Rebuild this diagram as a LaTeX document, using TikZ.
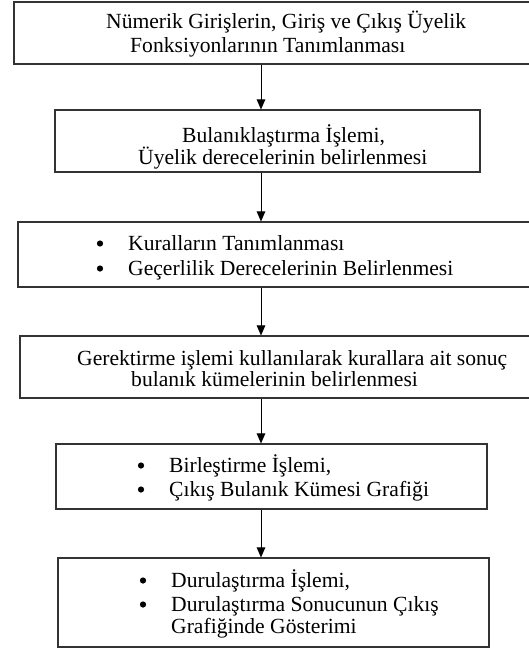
\documentclass[tikz,border=0pt]{standalone}
\usepackage{fontspec}
\setmainfont{Liberation Serif}
\usetikzlibrary{arrows.meta}
\begin{document}
\begin{tikzpicture}[x=1pt,y=-1pt,
  box/.style={draw=black!80, line width=1.1pt, inner sep=0pt, fill=white},
  txt/.style={anchor=base west, inner sep=0pt, font=\fontsize{21.6}{24}\selectfont},
  flow/.style={-{Triangle[length=10pt,width=8.5pt]}, line width=1pt},
  bul/.style={fill=black}]
\clip (0,0) rectangle (529,648);
\fill[white] (0,0) rectangle (529,648);

% process boxes
\node[box, minimum width=518pt, minimum height=62pt] (b1) at (273,33) {};
\node[box, minimum width=425pt, minimum height=62pt] (b2) at (267.5,141) {};
\node[box, minimum width=514pt, minimum height=65pt] (b3) at (275,254.5) {};
\node[box, minimum width=512pt, minimum height=62pt] (b4) at (276,367) {};
\node[box, minimum width=431pt, minimum height=65pt] (b5) at (271.5,476.5) {};
\node[box, minimum width=431pt, minimum height=89pt] (b6) at (273.5,602.5) {};

% box texts
\node[txt] (t1a) at (106,28) {Nümerik Girişlerin, Giriş ve Çıkış Üyelik};
\node[txt] (t1b) at (130,52) {Fonksiyonlarının Tanımlanması};
\node[txt] (t2a) at (182,142) {Bulanıklaştırma İşlemi,};
\node[txt] (t2b) at (138,164) {Üyelik derecelerinin belirlenmesi};
\node[txt] (t3a) at (128,250) {Kuralların Tanımlanması};
\node[txt] (t3b) at (128,275) {Geçerlilik Derecelerinin Belirlenmesi};
\node[txt] (t4a) at (77,365) {Gerektirme işlemi kullanılarak kurallara ait sonuç};
\node[txt] (t4b) at (131,386) {bulanık kümelerinin belirlenmesi};
\node[txt] (t5a) at (169,472) {Birleştirme İşlemi,};
\node[txt] (t5b) at (169,496) {Çıkış Bulanık Kümesi Grafiği};
\node[txt] (t6a) at (171,587) {Durulaştırma İşlemi,};
\node[txt] (t6b) at (171,611) {Durulaştırma Sonucunun Çıkış};
\node[txt] (t6c) at (171,633) {Grafiğinde Gösterimi};

% list bullets in front of the items
\foreach \t in {t3a,t3b,t5a,t5b,t6a,t6b}
  \fill[bul] ([xshift=-28pt,yshift=6.5pt]\t.base west) circle (3.1pt);

% connectors
\coordinate (ax) at (261,0);
\draw[flow] (b1.south -| ax) -- (b2.north -| ax);
\draw[flow] (b2.south -| ax) -- (b3.north -| ax);
\draw[flow] (b3.south -| ax) -- (b4.north -| ax);
\draw[flow] (b4.south -| ax) -- (b5.north -| ax);
\draw[flow] (b5.south -| ax) -- (b6.north -| ax);
\end{tikzpicture}
\end{document}
